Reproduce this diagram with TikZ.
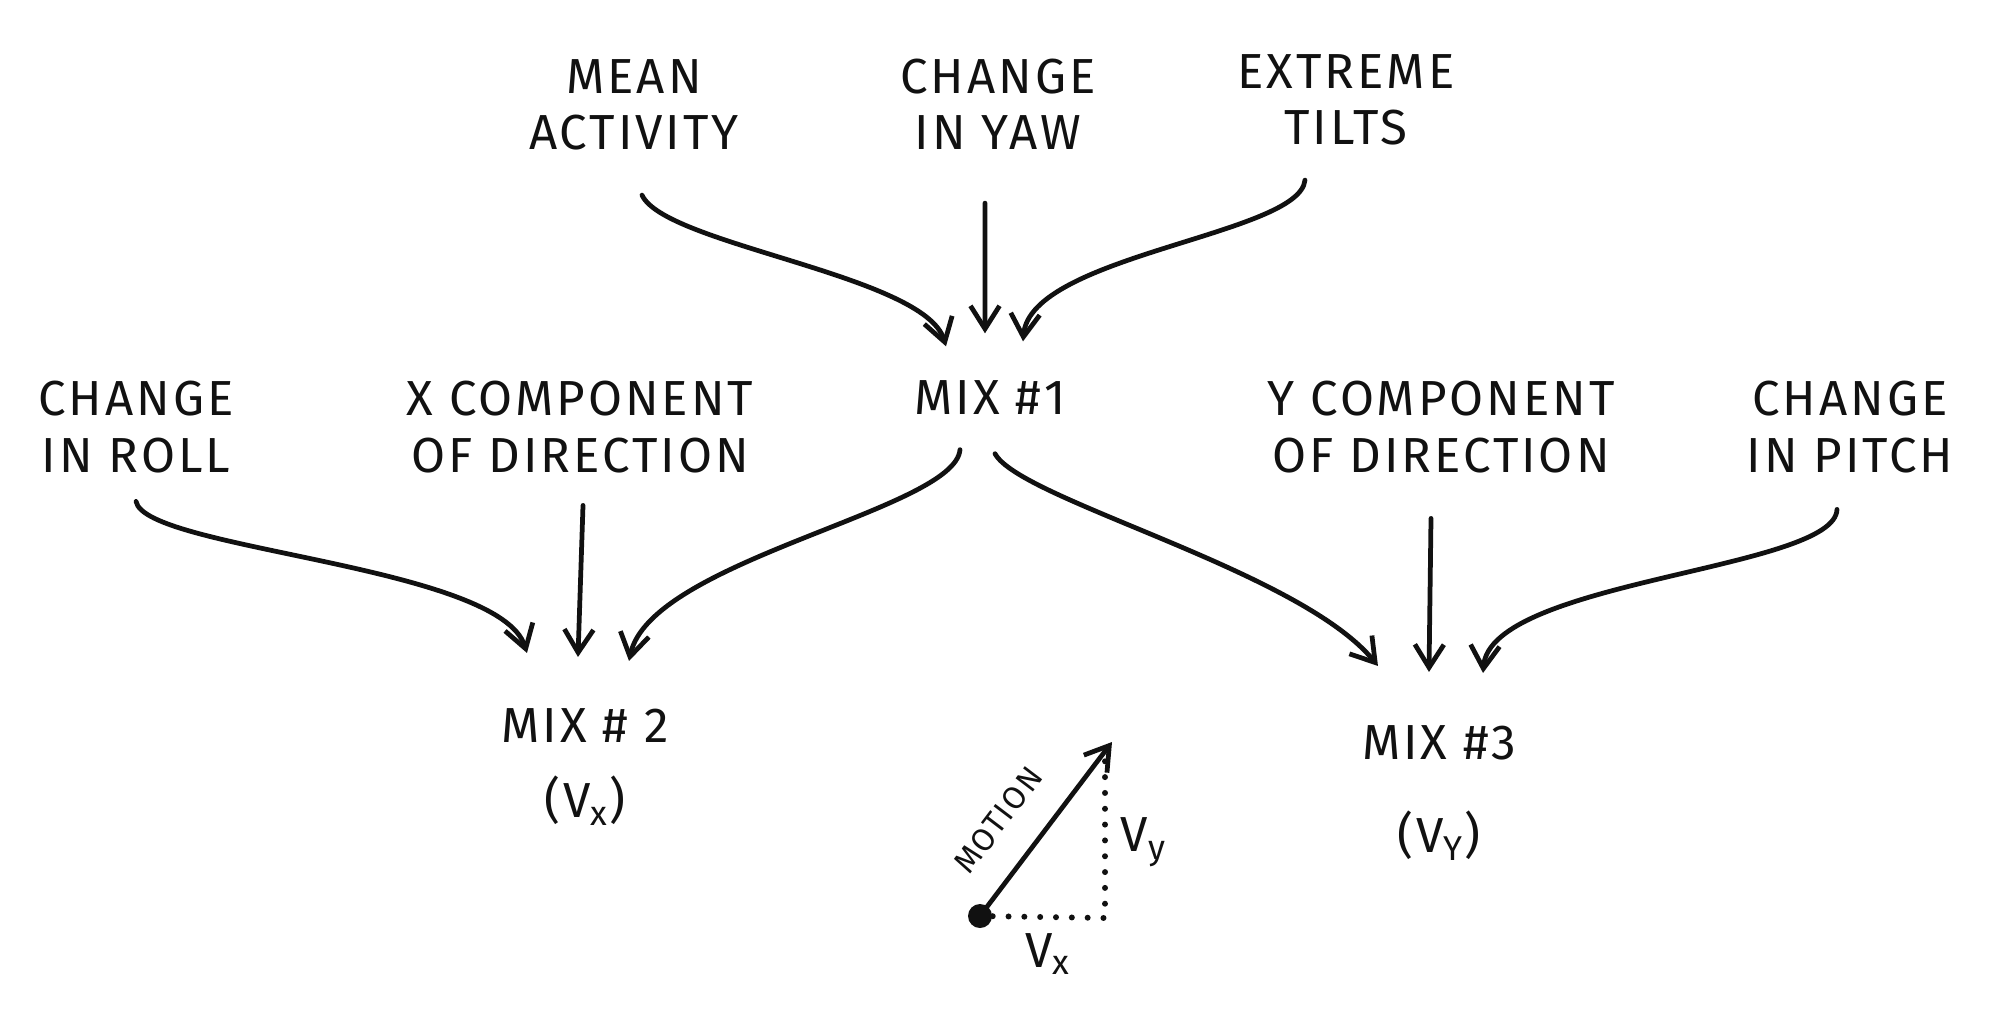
\documentclass[tikz,border=0pt]{standalone}
\usepackage{fontspec}
\setmainfont[LetterSpace=6]{Fira Sans}
\usetikzlibrary{arrows.meta}
\definecolor{inkBlack}{HTML}{111111}

\begin{document}
\begin{tikzpicture}[
        x=0.01cm, y=-0.01cm,
        handtext/.style={
            align=center,
            inner sep=0pt,
            text=inkBlack,
            font=\fontsize{14}{16}\selectfont
        },
        smalltext/.style={
            inner sep=0pt,
            text=inkBlack,
            font=\fontsize{9}{10}\selectfont
        },
        arrow/.style={
            -{Straight Barb[length=2.3mm,width=2.9mm]},
            line width=1.35pt,
            line cap=round,
            draw=inkBlack
        },
        dots/.style={
            line width=1.7pt,
            line cap=round,
            dash pattern=on 0pt off 4.5pt,
            draw=inkBlack
        }
    ]
    \useasboundingbox (0,0) rectangle (2000,1012);

    \node[handtext] (meanact) at (634,105) {MEAN\\ACTIVITY};
    \node[handtext] (yawchg) at (998,104) {CHANGE\\IN YAW};
    \node[handtext] (tilts) at (1346,100) {EXTREME\\TILTS};
    \node[handtext] (mixone) at (990,398) {MIX \#1};

    \node[handtext] (rollchg) at (136,427) {CHANGE\\IN ROLL};
    \node[handtext] (xcomp) at (580,427) {X COMPONENT\\OF DIRECTION};
    \node[handtext] (ycomp) at (1441,427) {Y COMPONENT\\OF DIRECTION};
    \node[handtext] (pitchchg) at (1850,427) {CHANGE\\IN PITCH};

    \node[handtext, anchor=north] (mixtwo) at (585,708) {MIX \# 2\\[0.19cm](V\textsubscript{x})};
    \node[handtext, anchor=north] (mixthree) at (1439,725) {MIX \#3\\[0.37cm](V\textsubscript{Y})};

    % inputs of mix 1
    \draw[arrow] ([xshift=0.08cm,yshift=-0.44cm]meanact.south)
        .. controls (665,245) and (925,275) ..
        ([xshift=-0.44cm,yshift=0.34cm]mixone.north);
    \draw[arrow] ([xshift=-0.13cm,yshift=-0.53cm]yawchg.south) --
        ([xshift=-0.05cm,yshift=0.47cm]mixone.north);
    \draw[arrow] ([xshift=-0.41cm,yshift=-0.34cm]tilts.south)
        .. controls (1300,235) and (1030,255) ..
        ([xshift=0.33cm,yshift=0.39cm]mixone.north);

    % inputs of mix 2
    \draw[arrow] ([yshift=-0.28cm]rollchg.south)
        .. controls (145,550) and (500,565) ..
        ([xshift=-0.58cm,yshift=0.55cm]mixtwo.north);
    \draw[arrow] ([xshift=0.03cm,yshift=-0.32cm]xcomp.south) --
        ([xshift=-0.07cm,yshift=0.51cm]mixtwo.north);
    \draw[arrow] ([xshift=-0.30cm,yshift=-0.34cm]mixone.south)
        .. controls (955,510) and (650,560) ..
        ([xshift=0.44cm,yshift=0.47cm]mixtwo.north);

    % inputs of mix 3
    \draw[arrow] ([xshift=0.05cm,yshift=-0.38cm]mixone.south)
        .. controls (1020,500) and (1300,570) ..
        ([xshift=-0.61cm,yshift=0.59cm]mixthree.north);
    \draw[arrow] ([xshift=-0.10cm,yshift=-0.45cm]ycomp.south) --
        ([xshift=-0.10cm,yshift=0.53cm]mixthree.north);
    \draw[arrow] ([xshift=-0.13cm,yshift=-0.36cm]pitchchg.south)
        .. controls (1835,570) and (1490,580) ..
        ([xshift=0.44cm,yshift=0.52cm]mixthree.north);

    % motion sketch
    \node[circle, fill=inkBlack, minimum size=0.24cm, inner sep=0pt] (ball) at (980,916) {};
    \coordinate (tip) at (1112,742);
    \coordinate (corner) at (1105,918);
    \coordinate (rise) at (1105,756);
    \draw[arrow] (ball.center) --
        node[smalltext, sloped, above=0.3cm, pos=0.4] {MOTION} (tip);
    \draw[dots] (ball) -- (corner) -- (rise);
    \node[handtext] (vylab) at (1144,842) {V\textsubscript{y}};
    \node[handtext] (vxlab) at (1048,954) {V\textsubscript{x}};

\end{tikzpicture}
\end{document}
